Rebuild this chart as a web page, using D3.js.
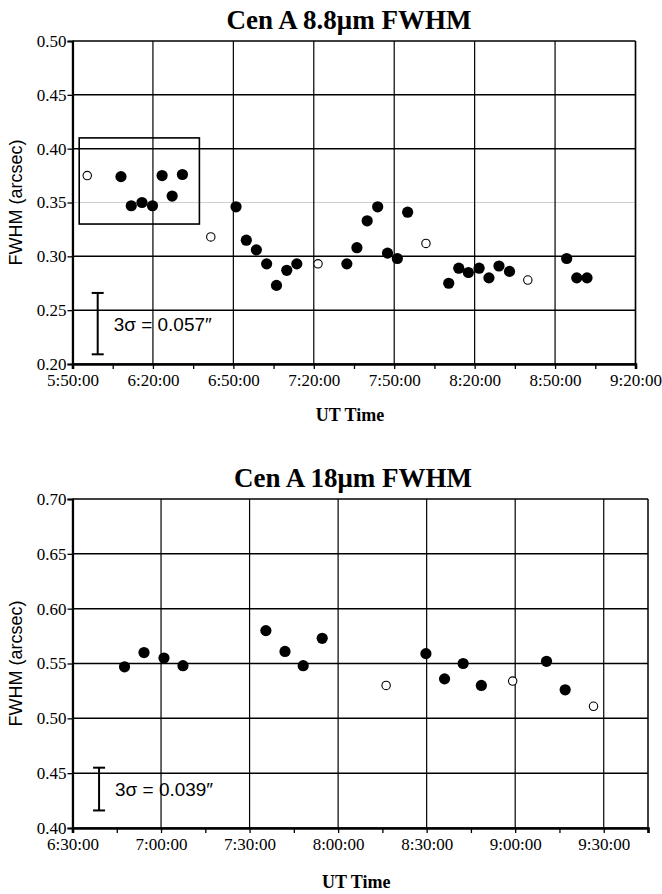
<!DOCTYPE html>
<html><head><meta charset="utf-8">
<script src="https://cdn.jsdelivr.net/npm/d3@7"></script>
<style>body{margin:0;background:#fff}svg{display:block}
.serif{font-family:'Liberation Serif','Times New Roman',Times,serif}
.sans{font-family:'Liberation Sans',Arial,Helvetica,sans-serif}
</style>
</head><body>
<script>
// ---- Data ----
const topTitle = "Cen A 8.8\u03bcm FWHM";
const topYTicks = [0.20, 0.25, 0.30, 0.35, 0.40, 0.45, 0.50];
const topXTicks = ["5:50:00","6:20:00","6:50:00","7:20:00","7:50:00","8:20:00","8:50:00","9:20:00"];
const topFilledTimes = ["6:08:05","6:11:55","6:15:55","6:19:50","6:23:25","6:27:10","6:31:00","6:51:00","6:54:50","6:58:35","7:02:25","7:06:05","7:09:55","7:13:40","7:32:20","7:36:05","7:39:55","7:43:50","7:47:30","7:51:10","7:55:00","8:10:20","8:14:05","8:17:40","8:21:40","8:25:20","8:29:05","8:33:00","8:54:20","8:58:05","9:01:55"];
const topFilledValues = [0.374,0.347,0.350,0.347,0.375,0.356,0.376,0.346,0.315,0.306,0.293,0.273,0.287,0.293,0.293,0.308,0.333,0.346,0.303,0.298,0.341,0.275,0.289,0.285,0.289,0.280,0.291,0.286,0.298,0.280,0.280];
const topOpenTimes = ["5:55:30","6:41:35","7:21:35","8:01:50","8:39:50"];
const topOpenValues = [0.375,0.318,0.293,0.312,0.278];
const topBoxTimes = ["5:52:30","6:37:20"];
const topBoxValues = [0.330, 0.410];
const topSigmaTime = "5:59:24";
const topSigmaRange = [0.209, 0.266];
const topSigmaLabel = "3\u03c3 = 0.057\u2033";

const botTitle = "Cen A 18\u03bcm FWHM";
const botYTicks = [0.40, 0.45, 0.50, 0.55, 0.60, 0.65, 0.70];
const botXTicks = ["6:30:00","7:00:00","7:30:00","8:00:00","8:30:00","9:00:00","9:30:00"];
const botXEnd = "9:45:00";
const botFilledTimes = ["6:47:38","6:54:14","7:01:00","7:07:26","7:35:32","7:42:00","7:48:10","7:54:36","8:29:45","8:36:04","8:42:22","8:48:32","9:10:37","9:16:56"];
const botFilledValues = [0.547,0.560,0.555,0.548,0.580,0.561,0.548,0.573,0.559,0.536,0.550,0.530,0.552,0.526];
const botOpenTimes = ["8:16:16","8:59:09","9:26:32"];
const botOpenValues = [0.530,0.534,0.511];
const botSigmaTime = "6:39:00";
const botSigmaRange = [0.416, 0.455];
const botSigmaLabel = "3\u03c3 = 0.039\u2033";

const xLabel = "UT Time";
const yLabel = "FWHM (arcsec)";

// ---- helpers ----
const sec = s => { const p = s.split(":").map(Number); return p[0]*3600 + p[1]*60 + p[2]; };

const svg = d3.select("body").append("svg").attr("width", 662).attr("height", 894);

function panel(cfg) {
  const g = svg.append("g");
  const x0 = sec(cfg.xTicks[0]);
  const x1 = cfg.xEnd ? sec(cfg.xEnd) : sec(cfg.xTicks[cfg.xTicks.length-1]);
  const x = d3.scaleLinear().domain([x0, x1]).range([cfg.left, cfg.right]);
  const y = d3.scaleLinear().domain([cfg.yTicks[0], cfg.yTicks[cfg.yTicks.length-1]]).range([cfg.bottom, cfg.top]);
  const isLight = d => cfg.lightY !== undefined && Math.abs(d - cfg.lightY) < 1e-9;

  // horizontal gridlines
  g.selectAll(".hg").data(cfg.yTicks).join("line")
    .attr("x1", cfg.left).attr("x2", cfg.right)
    .attr("y1", d => y(d)).attr("y2", d => y(d))
    .attr("stroke", d => isLight(d) ? "#cfcfcf" : "#000")
    .attr("stroke-width", d => isLight(d) ? 1 : 1.5);

  // vertical gridlines at major ticks
  const majors = cfg.xTicks.map(sec);
  g.selectAll(".vg").data(majors).join("line")
    .attr("x1", d => x(d)).attr("x2", d => x(d))
    .attr("y1", cfg.top).attr("y2", cfg.bottom)
    .attr("stroke", "#000").attr("stroke-width", 1.2);
  // right border
  g.append("line").attr("x1", cfg.right).attr("x2", cfg.right).attr("y1", cfg.top).attr("y2", cfg.bottom)
    .attr("stroke", "#000").attr("stroke-width", 1.5);

  // y axis
  const yAxis = d3.axisLeft(y).tickValues(cfg.yTicks).tickFormat(d3.format(".2f")).tickSize(5).tickPadding(1);
  const ya = g.append("g").attr("transform", `translate(${cfg.left},0)`).call(yAxis);
  ya.attr("font-family", null).attr("font-size", null);
  ya.select(".domain").attr("stroke-width", 2.2);
  ya.selectAll(".tick line").attr("stroke-width", 1.3);
  ya.selectAll("text").attr("class", "serif").style("font-size", "17px").attr("fill", "#000");

  // x axis: ticks every 15 min, labels at majors
  const minorTicks = d3.range(x0, x1 + 1, 900);
  const xAxis = d3.axisBottom(x).tickValues(minorTicks).tickSize(5).tickPadding(5)
    .tickFormat(d => { const i = majors.indexOf(d); return i >= 0 ? cfg.xTicks[i] : ""; });
  const xa = g.append("g").attr("transform", `translate(0,${cfg.bottom})`).call(xAxis);
  xa.attr("font-family", null).attr("font-size", null);
  xa.select(".domain").attr("stroke-width", 2.6);
  xa.selectAll(".tick line").attr("stroke-width", 1.3);
  xa.selectAll("text").attr("class", "serif").style("font-size", "17px").attr("fill", "#000");

  // box
  if (cfg.boxTimes) {
    g.append("rect")
      .attr("x", x(sec(cfg.boxTimes[0]))).attr("y", y(cfg.boxValues[1]))
      .attr("width", x(sec(cfg.boxTimes[1])) - x(sec(cfg.boxTimes[0])))
      .attr("height", y(cfg.boxValues[0]) - y(cfg.boxValues[1]))
      .attr("fill", "none").attr("stroke", "#000").attr("stroke-width", 1.6);
  }

  // sigma bar
  const sx = x(sec(cfg.sigmaTime));
  const sb = g.append("g").attr("stroke", "#000").attr("stroke-width", 2);
  sb.append("line").attr("x1", sx).attr("x2", sx).attr("y1", y(cfg.sigmaRange[0])).attr("y2", y(cfg.sigmaRange[1]));
  sb.append("line").attr("x1", sx-6).attr("x2", sx+6).attr("y1", y(cfg.sigmaRange[0])).attr("y2", y(cfg.sigmaRange[0]));
  sb.append("line").attr("x1", sx-6).attr("x2", sx+6).attr("y1", y(cfg.sigmaRange[1])).attr("y2", y(cfg.sigmaRange[1]));
  g.append("text").attr("class", "sans").attr("x", sx + 16).attr("y", (y(cfg.sigmaRange[0]) + y(cfg.sigmaRange[1]))/2 + 7)
    .style("font-size", "18.5px")
    .attr("textLength", 98).attr("lengthAdjust", "spacingAndGlyphs")
    .text(cfg.sigmaLabel);

  // points
  const filled = cfg.filledTimes.map((t, i) => ({t: sec(t), v: cfg.filledValues[i]}));
  const open = cfg.openTimes.map((t, i) => ({t: sec(t), v: cfg.openValues[i]}));
  g.selectAll(".fp").data(filled).join("circle")
    .attr("cx", d => x(d.t)).attr("cy", d => y(d.v)).attr("r", 5.6).attr("fill", "#000");
  g.selectAll(".op").data(open).join("circle")
    .attr("cx", d => x(d.t)).attr("cy", d => y(d.v)).attr("r", 4.2)
    .attr("fill", "#fff").attr("stroke", "#000").attr("stroke-width", 1.1);

  // title
  g.append("text").attr("class", "serif").attr("x", cfg.titleX).attr("y", cfg.top - 12).attr("text-anchor", "middle")
    .style("font-weight", "bold").style("font-size", "27px").text(cfg.title);
  // x label
  g.append("text").attr("class", "serif").attr("x", (cfg.left + cfg.right)/2 - 4).attr("y", cfg.bottom + cfg.xLabelOff).attr("text-anchor", "middle")
    .style("font-weight", "bold").style("font-size", "18px").text(xLabel);
  // y label
  g.append("text").attr("class", "sans").attr("transform", `translate(22,${(cfg.top + cfg.bottom)/2}) rotate(-90)`)
    .attr("text-anchor", "middle").style("font-size", "19px")
    .attr("textLength", 126).attr("lengthAdjust", "spacingAndGlyphs")
    .text(yLabel);
}

panel({
  left: 72.5, right: 635.5, top: 41, bottom: 364,
  yTicks: topYTicks, xTicks: topXTicks, lightY: 0.35,
  filledTimes: topFilledTimes, filledValues: topFilledValues,
  openTimes: topOpenTimes, openValues: topOpenValues,
  boxTimes: topBoxTimes, boxValues: topBoxValues,
  sigmaTime: topSigmaTime, sigmaRange: topSigmaRange, sigmaLabel: topSigmaLabel,
  title: topTitle, titleX: 349, xLabelOff: 57
});
panel({
  left: 72.5, right: 648, top: 499, bottom: 828,
  yTicks: botYTicks, xTicks: botXTicks, xEnd: botXEnd,
  filledTimes: botFilledTimes, filledValues: botFilledValues,
  openTimes: botOpenTimes, openValues: botOpenValues,
  sigmaTime: botSigmaTime, sigmaRange: botSigmaRange, sigmaLabel: botSigmaLabel,
  title: botTitle, titleX: 353, xLabelOff: 60
});
</script>
</body></html>
